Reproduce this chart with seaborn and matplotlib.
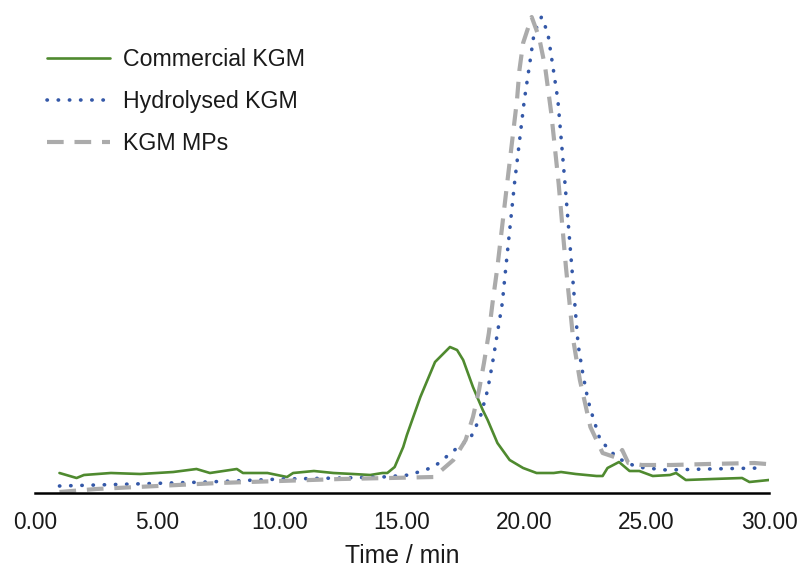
import numpy as np
import pandas as pd
import matplotlib
matplotlib.use("Agg")
import matplotlib.pyplot as plt
import seaborn as sns

# ---- data (detector response, arbitrary units) ----
com_t = [1.0, 1.7, 2.0, 3.1, 4.3, 5.65, 6.6, 7.15, 8.25, 8.5, 9.5, 10.3, 10.55, 11.4, 12.2, 13.0,
         13.7, 14.2, 14.4, 14.7, 15.05, 15.2, 15.75, 16.35, 16.96, 17.25, 17.5, 17.9, 18.3, 18.5,
         18.9, 19.4, 19.95, 20.5, 21.2, 21.5, 22.1, 22.95, 23.2, 23.4, 23.87, 24.3, 24.7, 25.25,
         25.95, 26.2, 26.6, 27.7, 28.9, 29.2, 30.0]
com_y = [20, 15, 18, 20, 19, 21, 24, 20, 24, 20, 20, 16, 20, 22, 20, 19,
         18, 20, 20, 26, 46, 58, 96, 131, 146, 143, 133, 106, 83, 73,
         50, 33, 25, 20, 20, 21, 19, 17, 17, 25, 31, 22, 22, 17,
         18, 20, 13, 14, 15, 11, 13]

hyd_t = [1.0, 4.0, 7.0, 10.1, 12.5, 14.2, 15.3, 16.3, 17.2, 17.8, 18.2, 18.5, 18.7, 18.9, 19.1,
         19.2, 19.6, 20.0, 20.2, 20.4, 20.7, 20.96, 21.17, 21.37, 21.66, 21.94, 22.2, 22.4, 22.6,
         22.75, 23.1, 23.8, 24.6, 25.8, 27.5, 29.7]
hyd_y = [7, 9, 11, 14, 15, 16, 18, 26, 44, 55, 76, 103, 130, 160, 190,
         215, 310, 393, 426, 460, 476, 460, 426, 393, 310, 226, 148, 118, 93,
         80, 53, 35, 26, 23, 24, 25]

mps_t = [1.0, 2.5, 5.0, 7.5, 10.0, 12.5, 14.5, 16.3, 17.1, 17.6, 17.9, 18.15, 18.35, 18.55, 18.7,
         18.9, 19.3, 19.7, 19.8, 19.95, 20.3, 20.6, 20.85, 21.1, 21.4, 21.7, 22.0, 22.27, 22.7,
         23.2, 23.8, 24.0, 24.25, 24.8, 26.0, 27.5, 29.4, 29.9]
mps_y = [1, 4, 7, 10, 12, 14, 15, 16, 33, 53, 76, 103, 130, 160, 190,
         226, 310, 393, 423, 450, 476, 456, 426, 380, 310, 226, 153, 113, 66,
         40, 35, 43, 30, 28, 28, 29, 30, 29]

series = ["Commercial KGM", "Hydrolysed KGM", "KGM MPs"]
tick_vals = [0, 5, 10, 15, 20, 25, 30]
tick_labels = ["0.00", "5.00", "10.00", "15.00", "20.00", "25.00", "30.00"]

df = pd.concat([
    pd.DataFrame({"t": com_t, "y": com_y, "s": series[0]}),
    pd.DataFrame({"t": hyd_t, "y": hyd_y, "s": series[1]}),
    pd.DataFrame({"t": mps_t, "y": mps_y, "s": series[2]}),
])

sns.set_style("white")
plt.rcParams["font.family"] = ["Liberation Sans", "DejaVu Sans"]

fig = plt.figure(figsize=(8.01, 5.69), dpi=100)
ax = fig.add_axes([35 / 801, 76 / 569, 734 / 801, 483 / 569])

colors = {"Commercial KGM": "#4f8a2f", "Hydrolysed KGM": "#3458a8", "KGM MPs": "#ababab"}
styles = {
    "Commercial KGM": dict(linestyle="-", linewidth=1.9),
    "Hydrolysed KGM": dict(linestyle=(0, (0.1, 3.0)), linewidth=2.6, dash_capstyle="round"),
    "KGM MPs": dict(linestyle=(0, (4.0, 2.6)), linewidth=3.0),
}
for s in series:
    sub = df[df["s"] == s]
    sns.lineplot(data=sub, x="t", y="y", ax=ax, color=colors[s], label=s,
                 sort=False, estimator=None, **styles[s])

ax.set_xlim(0, 30)
ax.set_ylim(0, 483)
ax.set_xticks(tick_vals)
ax.set_xticklabels(tick_labels)
ax.set_yticks([])
ax.tick_params(axis="x", length=0, labelsize=16.3, pad=13, colors="#1a1a1a")
ax.set_xlabel("Time / min", fontsize=17.8, color="#1a1a1a", labelpad=7)
ax.set_ylabel("")
for sp in ["top", "right", "left"]:
    ax.spines[sp].set_visible(False)
ax.spines["bottom"].set_color("black")
ax.spines["bottom"].set_linewidth(1.8)

leg = ax.legend(loc="upper left", bbox_to_anchor=(0.004, 0.94), frameon=False, fontsize=16.7,
                handlelength=2.7, handletextpad=0.56, labelspacing=0.81, borderaxespad=0.0,
                borderpad=0.4)
for t in leg.get_texts():
    t.set_color("#1a1a1a")

fig.savefig("out.png", dpi=100)
